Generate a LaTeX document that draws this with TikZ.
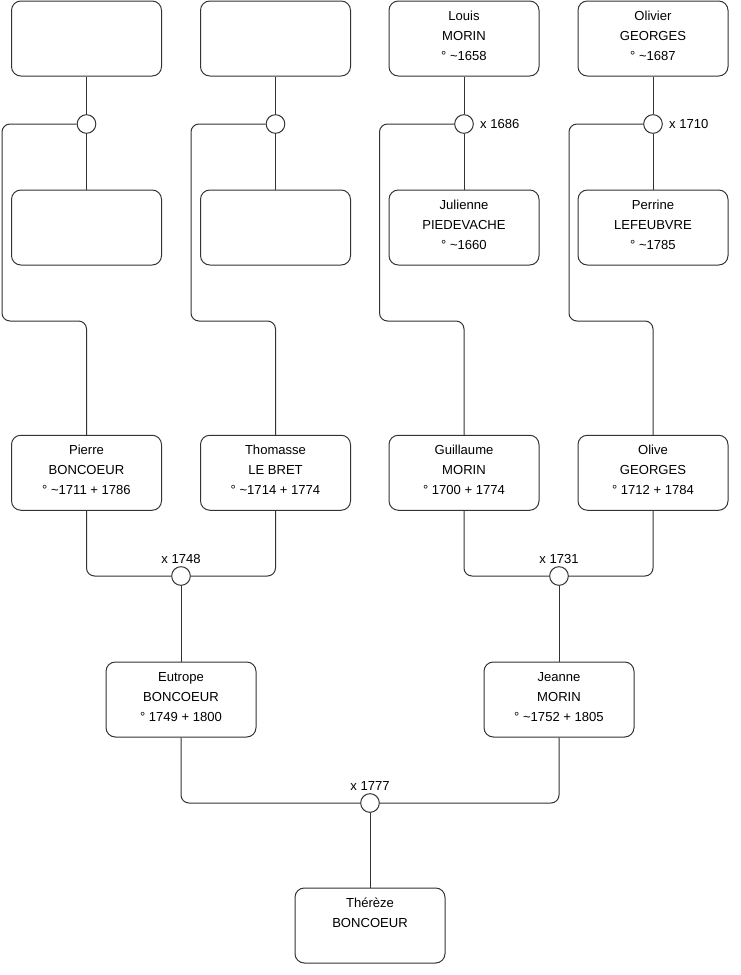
\documentclass[tikz,border=0pt]{standalone}
\usepackage{fontspec}
\setmainfont{Liberation Sans}
\usetikzlibrary{positioning}
\definecolor{lineclr}{HTML}{333333}

% three lines, top aligned in a fixed box
\newcommand{\pers}[3]{\parbox[c][56.25pt][t]{110pt}{\centering
  \rule{0pt}{14.3pt}#1\\#2\\#3}}

\begin{document}
\begin{tikzpicture}[
  x=0.75pt, y=-0.75pt,
  person/.style={draw=lineclr, rounded corners=7pt, line width=0.75pt,
                 minimum width=112.5pt, minimum height=56.25pt,
                 inner sep=0pt, font=\fontsize{9.8}{15}\selectfont},
  union/.style={circle, draw=lineclr, fill=white, line width=0.75pt,
                minimum size=14pt, inner sep=0pt},
  link/.style={draw=lineclr, line width=0.75pt, rounded corners=6pt},
  yr/.style={font=\fontsize{9.8}{11}\selectfont, inner sep=0pt},
]
\useasboundingbox (0,0) rectangle (740,975);

% ---- Great-grandparents ----
\node[person] (unkA) at (86.5, 38.5) {};
\node[person] (unkB) at (275.5, 38.5) {};
\node[person] (louis) at (464, 38.5)
  {\pers{Louis}{MORIN}{° \textasciitilde1658}};
\node[person] (olivier) at (653, 38.5)
  {\pers{Olivier}{GEORGES}{° \textasciitilde1687}};

\node[person] (unkC) at (86.5, 227.5) {};
\node[person] (unkD) at (275.5, 227.5) {};
\node[person] (julienne) at (464, 227.5)
  {\pers{Julienne}{PIEDEVACHE}{° \textasciitilde1660}};
\node[person] (perrine) at (653, 227.5)
  {\pers{Perrine}{LEFEUBVRE}{° \textasciitilde1785}};

\node[union] (mA) at (86.5, 124) {};
\node[union] (mB) at (275.5, 124) {};
\node[union] (m1686) at (464, 124) {};
\node[union] (m1710) at (653, 124) {};
\node[yr, right=4.5pt of m1686] (l1686) {x 1686};
\node[yr, right=4.5pt of m1710] (l1710) {x 1710};

\draw[link] (unkA) -- (mA) -- (unkC);
\draw[link] (unkB) -- (mB) -- (unkD);
\draw[link] (louis) -- (m1686) -- (julienne);
\draw[link] (olivier) -- (m1710) -- (perrine);

% ---- Grandparents ----
\node[person] (pierre) at (86.5, 472.75)
  {\pers{Pierre}{BONCOEUR}{° \textasciitilde1711 + 1786}};
\node[person] (thomasse) at (275.5, 472.75)
  {\pers{Thomasse}{LE BRET}{° \textasciitilde1714 + 1774}};
\node[person] (guillaume) at (464, 472.75)
  {\pers{Guillaume}{MORIN}{° 1700 + 1774}};
\node[person] (olive) at (653, 472.75)
  {\pers{Olive}{GEORGES}{° 1712 + 1784}};

\draw[link] (mA.west) -| (2, 321) -| (pierre.north);
\draw[link] (mB.west) -| (191, 321) -| (thomasse.north);
\draw[link] (m1686.west) -| (379.5, 321) -| (guillaume.north);
\draw[link] (m1710.west) -| (569, 321) -| (olive.north);

\node[union] (m1748) at (181, 576) {};
\node[union] (m1731) at (559, 576) {};
\node[yr, above=1.5pt of m1748] (l1748) {x 1748};
\node[yr, above=1.5pt of m1731] (l1731) {x 1731};

\draw[link] (pierre.south) |- (m1748.west);
\draw[link] (thomasse.south) |- (m1748.east);
\draw[link] (guillaume.south) |- (m1731.west);
\draw[link] (olive.south) |- (m1731.east);

% ---- Parents ----
\node[person] (eutrope) at (181, 699.5)
  {\pers{Eutrope}{BONCOEUR}{° 1749 + 1800}};
\node[person] (jeanne) at (559, 699.5)
  {\pers{Jeanne}{MORIN}{° \textasciitilde1752 + 1805}};

\draw[link] (m1748) -- (eutrope);
\draw[link] (m1731) -- (jeanne);

\node[union] (m1777) at (370, 803) {};
\node[yr, above=1.5pt of m1777] (l1777) {x 1777};

\draw[link] (eutrope.south) |- (m1777.west);
\draw[link] (jeanne.south) |- (m1777.east);

% ---- Child ----
\node[person] (thereze) at (370, 925.5)
  {\pers{Thérèze}{BONCOEUR}{}};
\draw[link] (m1777) -- (thereze);

\end{tikzpicture}
\end{document}
